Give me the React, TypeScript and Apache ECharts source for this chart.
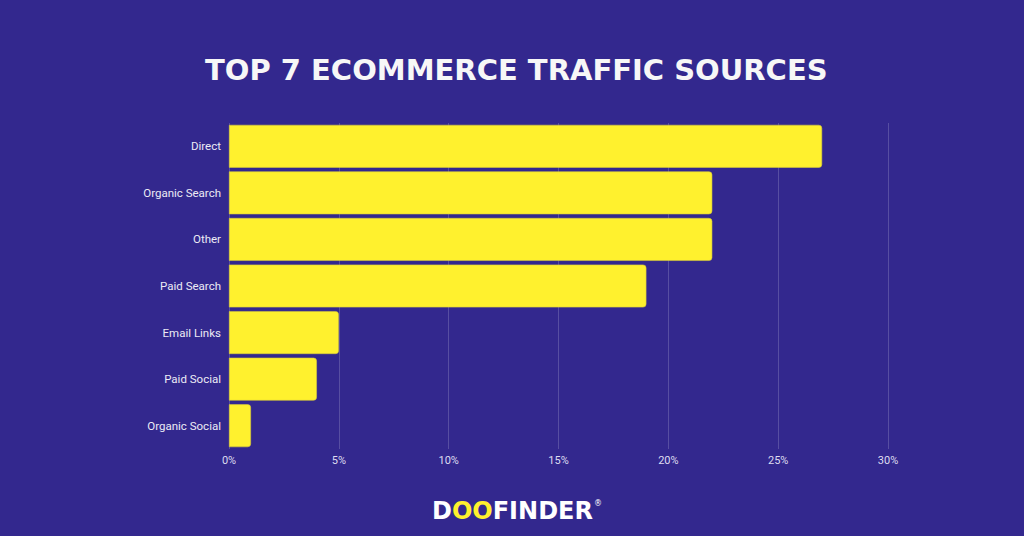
import React, { useEffect, useRef } from "react";
import * as echarts from "echarts";

const categories = ["Direct", "Organic Search", "Other", "Paid Search", "Email Links", "Paid Social", "Organic Social"];
const values = [27, 22, 22, 19, 5, 4, 1];
const xTicks = [0, 5, 10, 15, 20, 25, 30];

export default function App() {
  const ref = useRef<HTMLDivElement>(null);
  useEffect(() => {
    const chart = echarts.init(ref.current!, null, { renderer: "svg" });
    chart.setOption({
      animation: false,
      backgroundColor: "#33288e",
      title: {
        text: "TOP 7 ECOMMERCE TRAFFIC SOURCES",
        left: 200,
        top: 50,
        textStyle: { color: "#f7f7f7", fontFamily: "DejaVu Sans", fontWeight: "bold", fontSize: 29 },
      },
      grid: { left: 229, right: 136, top: 123, bottom: 87, containLabel: false },
      xAxis: {
        type: "value",
        min: xTicks[0],
        max: xTicks[xTicks.length - 1],
        interval: 5,
        axisLine: { show: false },
        axisTick: { show: false },
        splitLine: { show: true, lineStyle: { color: "rgba(255,255,255,0.18)", width: 1 } },
        axisLabel: { color: "#dedcf0", fontFamily: "Roboto", fontSize: 11, margin: 6, formatter: "{value}%" },
      },
      yAxis: {
        type: "category",
        data: categories,
        inverse: true,
        axisLine: { show: false },
        axisTick: { show: false },
        axisLabel: { color: "#ecebf5", fontFamily: "Roboto", fontSize: 11.5, margin: 8 },
      },
      series: [
        {
          type: "bar",
          data: values,
          barCategoryGap: "8%",
          itemStyle: { color: "#fff12e", borderRadius: [0, 3, 3, 0], borderColor: "#d8cb3a", borderWidth: 0.6 },
        },
      ],
      graphic: [
        {
          type: "text",
          left: 432,
          top: 499,
          style: {
            text: "{w|D}{y|OO}{w|FINDER}{r|®}",
            rich: {
              w: { fill: "#ffffff", fontFamily: "DejaVu Sans", fontWeight: "bold", fontSize: 24 },
              y: { fill: "#fff12e", fontFamily: "DejaVu Sans", fontWeight: "bold", fontSize: 24 },
              r: { fill: "#ffffff", fontFamily: "DejaVu Sans", fontSize: 8, verticalAlign: "top", padding: [0, 0, 12, 1] },
            },
          },
        },
      ],
    });
    return () => chart.dispose();
  }, []);
  return <div ref={ref} style={{ position: "absolute", left: 0, top: 0, width: 1024, height: 536 }} />;
}
